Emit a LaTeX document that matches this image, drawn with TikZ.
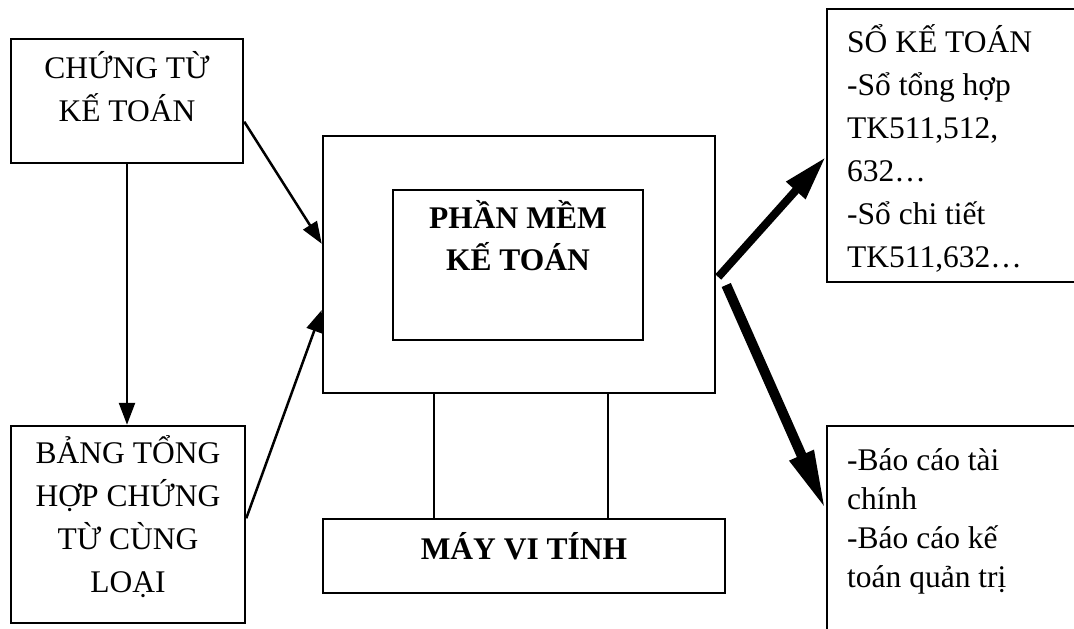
\documentclass[tikz,border=0pt]{standalone}
\usepackage{fontspec}
\setmainfont{Liberation Serif}
\usetikzlibrary{arrows.meta}

\begin{document}
\begin{tikzpicture}[x=1pt, y=-1pt,
  box/.style={draw, line width=2.5pt, inner sep=0pt},
  txt/.style={font=\fontsize{31.5}{43}\selectfont, align=center, inner sep=0pt},
  list/.style={font=\fontsize{31.5}{43}\selectfont, align=left, inner sep=0pt, anchor=north west},
  thin arrow/.style={-{Triangle[length=22pt, width=16pt]}, line width=2.5pt},
  fat arrow/.style={-{Triangle[length=#1, width=24pt]}}]
\clip (0, 0) rectangle (1074, 629);

% left column
\node[box, minimum width=232pt, minimum height=124pt] (chung tu) at (127, 101) {};
\node[txt] (chung tu text) at (127, 87) {CHỨNG TỪ\\KẾ TOÁN};
\node[box, minimum width=234pt, minimum height=197pt] (bang tong hop) at (128, 524.5) {};
\node[txt] (bang tong hop text) at (128, 516.5) {BẢNG TỔNG\\HỢP CHỨNG\\TỪ CÙNG\\LOẠI};

% middle
\node[box, minimum width=392pt, minimum height=257pt] (may tinh) at (519, 264.5) {};
\node[box, minimum width=250pt, minimum height=150pt] (phan mem) at (518, 265) {};
\node[txt, font=\fontsize{31.5}{42}\selectfont\bfseries] (phan mem text) at (518, 236) {PHẦN MỀM\\KẾ TOÁN};
\node[box, minimum width=402pt, minimum height=74pt] (may vi tinh) at (524, 556) {};
\node[txt, font=\fontsize{31.5}{42}\selectfont\bfseries] (may vi tinh text) at (524, 546.5) {MÁY VI TÍNH};

% right column
\node[box, minimum width=263pt, minimum height=273pt] (so ke toan) at (958.5, 145.5) {};
\node[list] (so ke toan text) at (847, 24) {SỔ KẾ TOÁN\\-Sổ tổng hợp\\TK511,512,\\632…\\-Sổ chi tiết\\TK511,632…};
\node[box, minimum width=263pt, minimum height=234pt] (bao cao) at (958.5, 543) {};
\node[list, font=\fontsize{31.5}{39}\selectfont] (bao cao text) at (847, 448) {-Báo cáo tài\\chính\\-Báo cáo kế\\toán quản trị};

% connectors
\draw[thin arrow] (chung tu.south) -- (chung tu.south |- bang tong hop.north);
\draw[thin arrow] (chung tu.-10.7) -- (may tinh.174.3);
\draw[thin arrow] (bang tong hop.3.2) -- (may tinh.193);
\draw[line width=2.5pt] ([xshift=112pt]may tinh.south west) -- ([xshift=112pt]may tinh.south west |- may vi tinh.north);
\draw[line width=2.5pt] ([xshift=286pt]may tinh.south west) -- ([xshift=286pt]may tinh.south west |- may vi tinh.north);
\draw[fat arrow=45pt, line width=8pt] ([xshift=2pt, yshift=-12.5pt]may tinh.east) -- ([yshift=-11.5pt]so ke toan.west);
\draw[fat arrow=60pt, line width=10pt] ([xshift=10pt, yshift=-20.5pt]may tinh.east) -- ([yshift=33pt]bao cao.west);

\end{tikzpicture}
\end{document}
